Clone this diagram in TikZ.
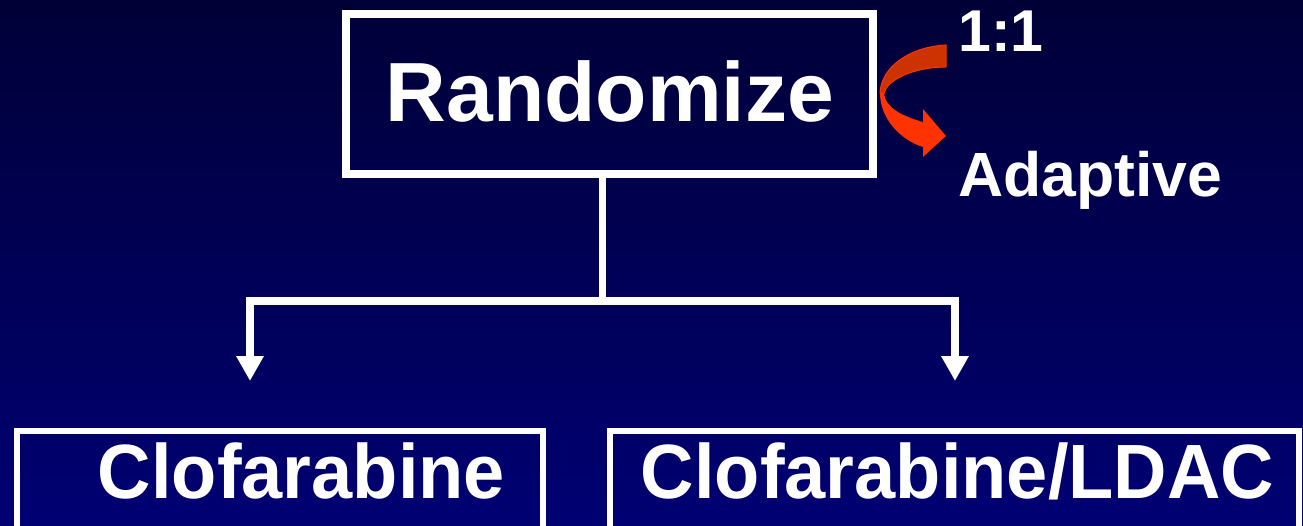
\documentclass[tikz,border=0pt]{standalone}
\usepackage{fontspec}
\setmainfont{Liberation Sans}
\usetikzlibrary{arrows.meta}
\definecolor{bgtop}{RGB}{0,0,55}
\definecolor{bgbot}{RGB}{0,0,115}
\definecolor{arrdark}{RGB}{204,51,0}
\definecolor{arrlight}{RGB}{255,51,0}
\tikzset{
  box/.style={draw=white, fill=none, inner sep=0pt},
  lbl/.style={text=white, inner sep=0pt, font=\bfseries},
  conn/.style={draw=white, line width=7.5pt},
  downarrow/.style={conn, -{Triangle[width=26pt,length=25pt]}},
}
\begin{document}
\begin{tikzpicture}[x=1pt,y=-1pt]
\useasboundingbox (0,0) rectangle (1303,526);
\clip (0,0) rectangle (1303,526);
\shade[top color=bgtop, bottom color=bgbot] (0,0) rectangle (1303,526);

% top box
\node[box, line width=8pt, minimum width=527pt, minimum height=160pt] (rand) at (609.5,94) {};
\node[lbl, anchor=base, font=\bfseries\fontsize{84}{100}\selectfont] (randtxt) at (610,122) {Randomize};

% bottom boxes
\node[box, line width=6pt, minimum width=526pt, minimum height=140pt] (lbox) at (280,501) {};
\node[box, line width=6pt, minimum width=689pt, minimum height=140pt] (rbox) at (954.5,501) {};
\node[lbl, anchor=base, font=\bfseries\fontsize{74}{90}\selectfont] (ltxt) at (301.5,498) {\scalebox{1}[1.04]{Clofarabine}};
\node[lbl, anchor=base, font=\bfseries\fontsize{74}{90}\selectfont] (rtxt) at (957.5,498) {\scalebox{1}[1.04]{Clofarabine/LDAC}};

% side labels
\node[lbl, anchor=base west, font=\bfseries\fontsize{59}{70}\selectfont] (ratio) at (958,52) {1:1};
\node[lbl, anchor=base west, font=\bfseries\fontsize{62.5}{70}\selectfont] (adapt) at (958,197) {Adaptive};

% connectors
\coordinate (split) at (602.5,301);
\coordinate (lcorner) at (250,301);
\coordinate (rcorner) at (955,301);
\coordinate (lend) at (250,381);
\coordinate (rend) at (955,381);
\draw[conn] (rand.south -| split) -- (split);
\draw[conn, line cap=rect] (lcorner) -- (rcorner);
\draw[downarrow] (lcorner) -- (lend);
\draw[downarrow] (rcorner) -- (rend);

% curved arrow
\fill[arrlight] (880,93) .. controls (880,118) and (900,140) .. (923,147)
  -- (923,157) -- (946,136) -- (923,109) -- (923,122)
  .. controls (902,116) and (886,108) .. (884,94) -- cycle;
\filldraw[fill=arrdark, draw=arrlight, line width=1pt] (946,45)
  .. controls (908,47) and (881,68) .. (880,93)
  -- (884,94)
  .. controls (886,80) and (914,67) .. (946,67) -- cycle;
\end{tikzpicture}
\end{document}
